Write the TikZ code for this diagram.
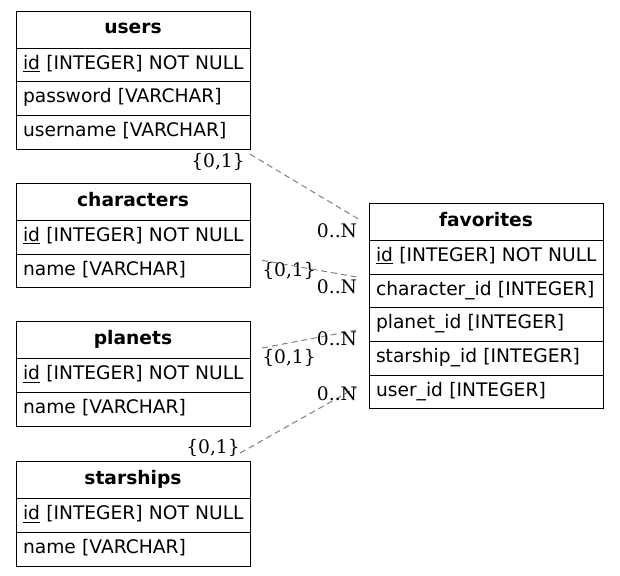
\documentclass[tikz,border=0pt]{standalone}
\usepackage{fontspec}
\setmainfont{DejaVu Sans}
\newfontfamily\cardfont{DejaVu Serif}
\usetikzlibrary{positioning}

\begin{document}
\begin{tikzpicture}[
  x=0.75pt, y=-0.75pt,
  tname/.style={draw=black, line width=0.75pt, outer sep=0pt, inner sep=0pt, minimum width=175.5pt, minimum height=27.75pt, text height=10pt, text depth=3.5pt, font=\fontsize{14pt}{17pt}\selectfont\bfseries},
  tfield/.style={draw=black, line width=0.75pt, outer sep=0pt, inner xsep=5.25pt, inner ysep=0pt, minimum width=175.5pt, minimum height=25.3pt, text width=165pt, align=left, text height=10pt, text depth=3.5pt, font=\fontsize{14pt}{17pt}\selectfont,
    execute at begin node={\hbox to 0pt\bgroup}, execute at end node={\hss\egroup}},
  rel/.style={draw=black!50, line width=0.75pt, dash pattern=on 4.5pt off 3pt},
  card/.style={anchor=base, inner sep=0pt, font=\fontsize{14pt}{17pt}\cardfont}
]
  \useasboundingbox (0,0) rectangle (620,575);

  % Tabla users
  \node[tname, anchor=north west] (users) at (16,11) {users};
  \node[tfield, below=0pt of users] (users-id) {\underline{id} [INTEGER] NOT NULL};
  \node[tfield, below=0pt of users-id] (users-password) {password [VARCHAR]};
  \node[tfield, below=0pt of users-password] (users-username) {username [VARCHAR]};

  % Tabla characters
  \node[tname, anchor=north west] (characters) at (16,183.3) {characters};
  \node[tfield, below=0pt of characters] (characters-id) {\underline{id} [INTEGER] NOT NULL};
  \node[tfield, below=0pt of characters-id] (characters-name) {name [VARCHAR]};

  % Tabla planets
  \node[tname, anchor=north west] (planets) at (16,321.7) {planets};
  \node[tfield, below=0pt of planets] (planets-id) {\underline{id} [INTEGER] NOT NULL};
  \node[tfield, below=0pt of planets-id] (planets-name) {name [VARCHAR]};

  % Tabla starships
  \node[tname, anchor=north west] (starships) at (16,461.7) {starships};
  \node[tfield, below=0pt of starships] (starships-id) {\underline{id} [INTEGER] NOT NULL};
  \node[tfield, below=0pt of starships-id] (starships-name) {name [VARCHAR]};

  % Tabla favorites
  \node[tname, anchor=north west] (favorites) at (369,203.3) {favorites};
  \node[tfield, below=0pt of favorites] (favorites-id) {\underline{id} [INTEGER] NOT NULL};
  \node[tfield, below=0pt of favorites-id] (favorites-character) {character\_id [INTEGER]};
  \node[tfield, below=0pt of favorites-character] (favorites-planet) {planet\_id [INTEGER]};
  \node[tfield, below=0pt of favorites-planet] (favorites-starship) {starship\_id [INTEGER]};
  \node[tfield, below=0pt of favorites-starship] (favorites-user) {user\_id [INTEGER]};

  % Relaciones hacia favorites
  \draw[rel] ([yshift=-3.75pt]users-username.south east) -- ([xshift=-8.25pt,yshift=2.25pt]favorites.west);
  \draw[rel] ([xshift=9pt,yshift=7.9pt]characters-name.east) -- ([xshift=-9pt,yshift=10.4pt]favorites-character.west);
  \draw[rel] ([xshift=9pt,yshift=-5.85pt]planets.east) -- ([xshift=-9pt,yshift=-4.05pt]favorites-planet.west);
  \draw[rel] ([xshift=-7.5pt,yshift=6.5pt]starships.north east) -- ([xshift=-9pt,yshift=3.75pt]favorites-user.west);

  % Cardinalidades
  \node[card] (users-one) at (218,167) {\{0,1\}};
  \node[card] (users-many) at (337,237) {0..N};
  \node[card] (characters-one) at (289,276) {\{0,1\}};
  \node[card] (characters-many) at (337,293) {0..N};
  \node[card] (planets-many) at (337,345) {0..N};
  \node[card] (planets-one) at (289,363) {\{0,1\}};
  \node[card] (starships-many) at (337,400) {0..N};
  \node[card] (starships-one) at (213,453) {\{0,1\}};

\end{tikzpicture}
\end{document}
